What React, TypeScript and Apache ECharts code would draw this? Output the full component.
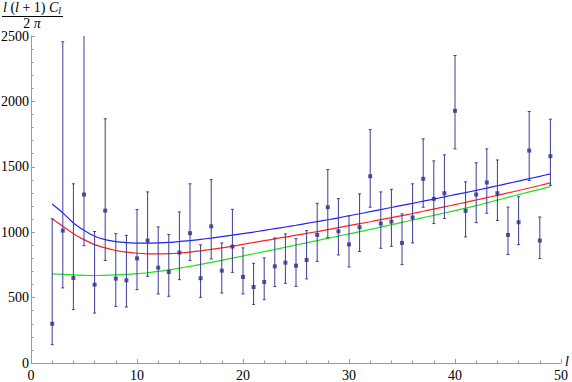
import React, { useEffect, useRef } from "react";
import * as echarts from "echarts";

const ells = [2,3,4,5,6,7,8,9,10,11,12,13,14,15,16,17,18,19,20,21,22,23,24,25,26,27,28,29,30,31,32,33,34,35,36,37,38,39,40,41,42,43,44,45,46,47,48,49];
const measured = [300,1012,650,1288,599,1165,645,632,800,936,729,696,844,992,648,1045,706,890,658,581,620,739,767,744,788,979,1191,1007,907,1038,1428,1066,1081,918,1112,1408,1255,1298,1928,1163,1288,1380,1298,979,1076,1624,936,1581];
const errLow = [140,574,408,897,382,783,433,428,561,663,528,510,637,783,502,796,535,693,528,448,484,584,609,586,643,777,959,826,734,852,1191,877,892,752,918,1191,1066,1104,1637,964,1073,1145,1090,829,905,1395,798,1358];
const errHigh = [1102,2456,1370,2560,1005,1867,989,976,1173,1308,1040,982,1155,1370,903,1402,918,1175,880,762,803,956,987,951,1012,1221,1479,1257,1125,1293,1784,1308,1328,1140,1370,1714,1545,1591,2351,1385,1531,1637,1552,1192,1271,1923,1116,1864];
const modelBlue = [1216,1148,1071,1015,969,943,928,920,917,916,918,922,929,936,945,955,966,977,989,1001,1014,1027,1040,1053,1067,1081,1095,1110,1126,1141,1157,1173,1189,1205,1221,1237,1253,1270,1287,1303,1320,1337,1355,1373,1391,1409,1427,1446];
const modelRed = [1102,1045,989,943,905,880,860,847,839,835,834,836,841,848,857,868,880,893,907,921,935,949,963,977,991,1005,1020,1035,1050,1065,1080,1096,1111,1127,1143,1160,1177,1194,1211,1228,1246,1264,1282,1300,1319,1338,1357,1377];
const modelGreen = [681,677,673,670,669,670,673,677,683,690,700,712,725,739,754,769,785,802,818,835,851,868,885,902,919,936,953,970,987,1004,1021,1039,1057,1075,1093,1111,1129,1147,1165,1184,1203,1224,1245,1266,1287,1308,1328,1349];

const SERIF = "'Liberation Serif', 'DejaVu Serif', serif";
const AXIS_GRAY = "#9a9a9a";
const BAR_COLOR = "#3c3c96";

export default function App() {
  const ref = useRef<HTMLDivElement>(null);
  useEffect(() => {
    if (!ref.current) return;
    const chart = echarts.init(ref.current, undefined, { renderer: "svg" });
    const errData = ells.map((l, i) => [l, errLow[i], errHigh[i]]);
    const pts = ells.map((l, i) => [l, measured[i]]);
    const mk = (arr: number[]) => ells.map((l, i) => [l, arr[i]]);
    chart.setOption({
      animation: false,
      backgroundColor: "#ffffff",
      grid: { left: 31, right: 11, top: 36, bottom: 19, containLabel: false, outerBoundsMode: "none" },
      xAxis: {
        type: "value",
        min: 0,
        max: 50,
        interval: 10,
        axisLine: { show: true, onZero: false, lineStyle: { color: AXIS_GRAY, width: 1 } },
        axisTick: { show: true, inside: true, length: 4, lineStyle: { color: AXIS_GRAY } },
        minorTick: { show: true, splitNumber: 5, length: 2.5, lineStyle: { color: AXIS_GRAY } },
        axisLabel: { fontFamily: SERIF, fontSize: 14, color: "#000", margin: 5, formatter: (v: number) => String(v) },
        splitLine: { show: false },
      },
      yAxis: {
        type: "value",
        min: 0,
        max: 2500,
        interval: 500,
        axisLine: { show: true, onZero: false, lineStyle: { color: AXIS_GRAY, width: 1 } },
        axisTick: { show: true, inside: true, length: 4, lineStyle: { color: AXIS_GRAY } },
        minorTick: { show: true, splitNumber: 5, length: 2.5, lineStyle: { color: AXIS_GRAY } },
        axisLabel: { fontFamily: SERIF, fontSize: 14, color: "#000", margin: 2, lineHeight: 13, formatter: (v: number) => String(v) },
        splitLine: { show: false },
      },
      graphic: [
        {
          type: "text",
          left: 3,
          top: 0,
          style: {
            text: "{i|l} ({i|l} + 1) {i|C}{s|l}",
            rich: {
              i: { fontFamily: SERIF, fontStyle: "italic", fontSize: 14, fill: "#000" },
              s: { fontFamily: SERIF, fontStyle: "italic", fontSize: 10, fill: "#000", verticalAlign: "bottom", padding: [6, 0, 0, 0] },
            },
            font: `14px ${SERIF}`,
            fill: "#000",
          },
        },
        {
          type: "line",
          shape: { x1: 2, y1: 16.5, x2: 63, y2: 16.5 },
          style: { stroke: "#000", lineWidth: 1 },
        },
        {
          type: "text",
          x: 32,
          y: 23,
          style: {
            text: "2 {i|π}",
            rich: { i: { fontFamily: SERIF, fontStyle: "italic", fontSize: 14, lineHeight: 11, fill: "#000" } },
            font: `14px ${SERIF}`,
            lineHeight: 11,
            fill: "#000",
            align: "center",
            verticalAlign: "middle",
          },
        },
        {
          type: "text",
          x: 565,
          y: 361,
          style: {
            text: "l",
            font: `italic 14px ${SERIF}`,
            fill: "#000",
            align: "left",
            verticalAlign: "middle",
          },
        },
      ],
      series: [
        {
          type: "line",
          data: mk(modelGreen),
          smooth: 0.3,
          showSymbol: false,
          lineStyle: { color: "#22dd22", width: 1.2 },
          z: 2,
        },
        {
          type: "line",
          data: mk(modelRed),
          smooth: 0.3,
          showSymbol: false,
          lineStyle: { color: "#ff2020", width: 1.2 },
          z: 2,
        },
        {
          type: "line",
          data: mk(modelBlue),
          smooth: 0.3,
          showSymbol: false,
          lineStyle: { color: "#2020ff", width: 1.2 },
          z: 2,
        },
        {
          type: "custom",
          clip: true,
          z: 3,
          data: errData,
          renderItem: (params: any, api: any) => {
            const x = api.value(0);
            const lo = api.value(1);
            const hi = api.value(2);
            const p1 = api.coord([x, lo]);
            const p2 = api.coord([x, hi]);
            const st = { stroke: BAR_COLOR, lineWidth: 1 };
            return {
              type: "group",
              children: [
                { type: "line", shape: { x1: p1[0], y1: p1[1], x2: p2[0], y2: p2[1] }, style: st },
                { type: "line", shape: { x1: p1[0] - 1.5, y1: p1[1], x2: p1[0] + 1.5, y2: p1[1] }, style: st },
                { type: "line", shape: { x1: p2[0] - 1.5, y1: p2[1], x2: p2[0] + 1.5, y2: p2[1] }, style: st },
              ],
            };
          },
        },
        {
          type: "scatter",
          data: pts,
          symbol: "rect",
          symbolSize: 4,
          itemStyle: { color: "#2e2e88" },
          z: 4,
        },
      ],
    });
    return () => chart.dispose();
  }, []);
  return <div ref={ref} style={{ width: 572, height: 382, position: "absolute", left: 0, top: 0 }} />;
}
